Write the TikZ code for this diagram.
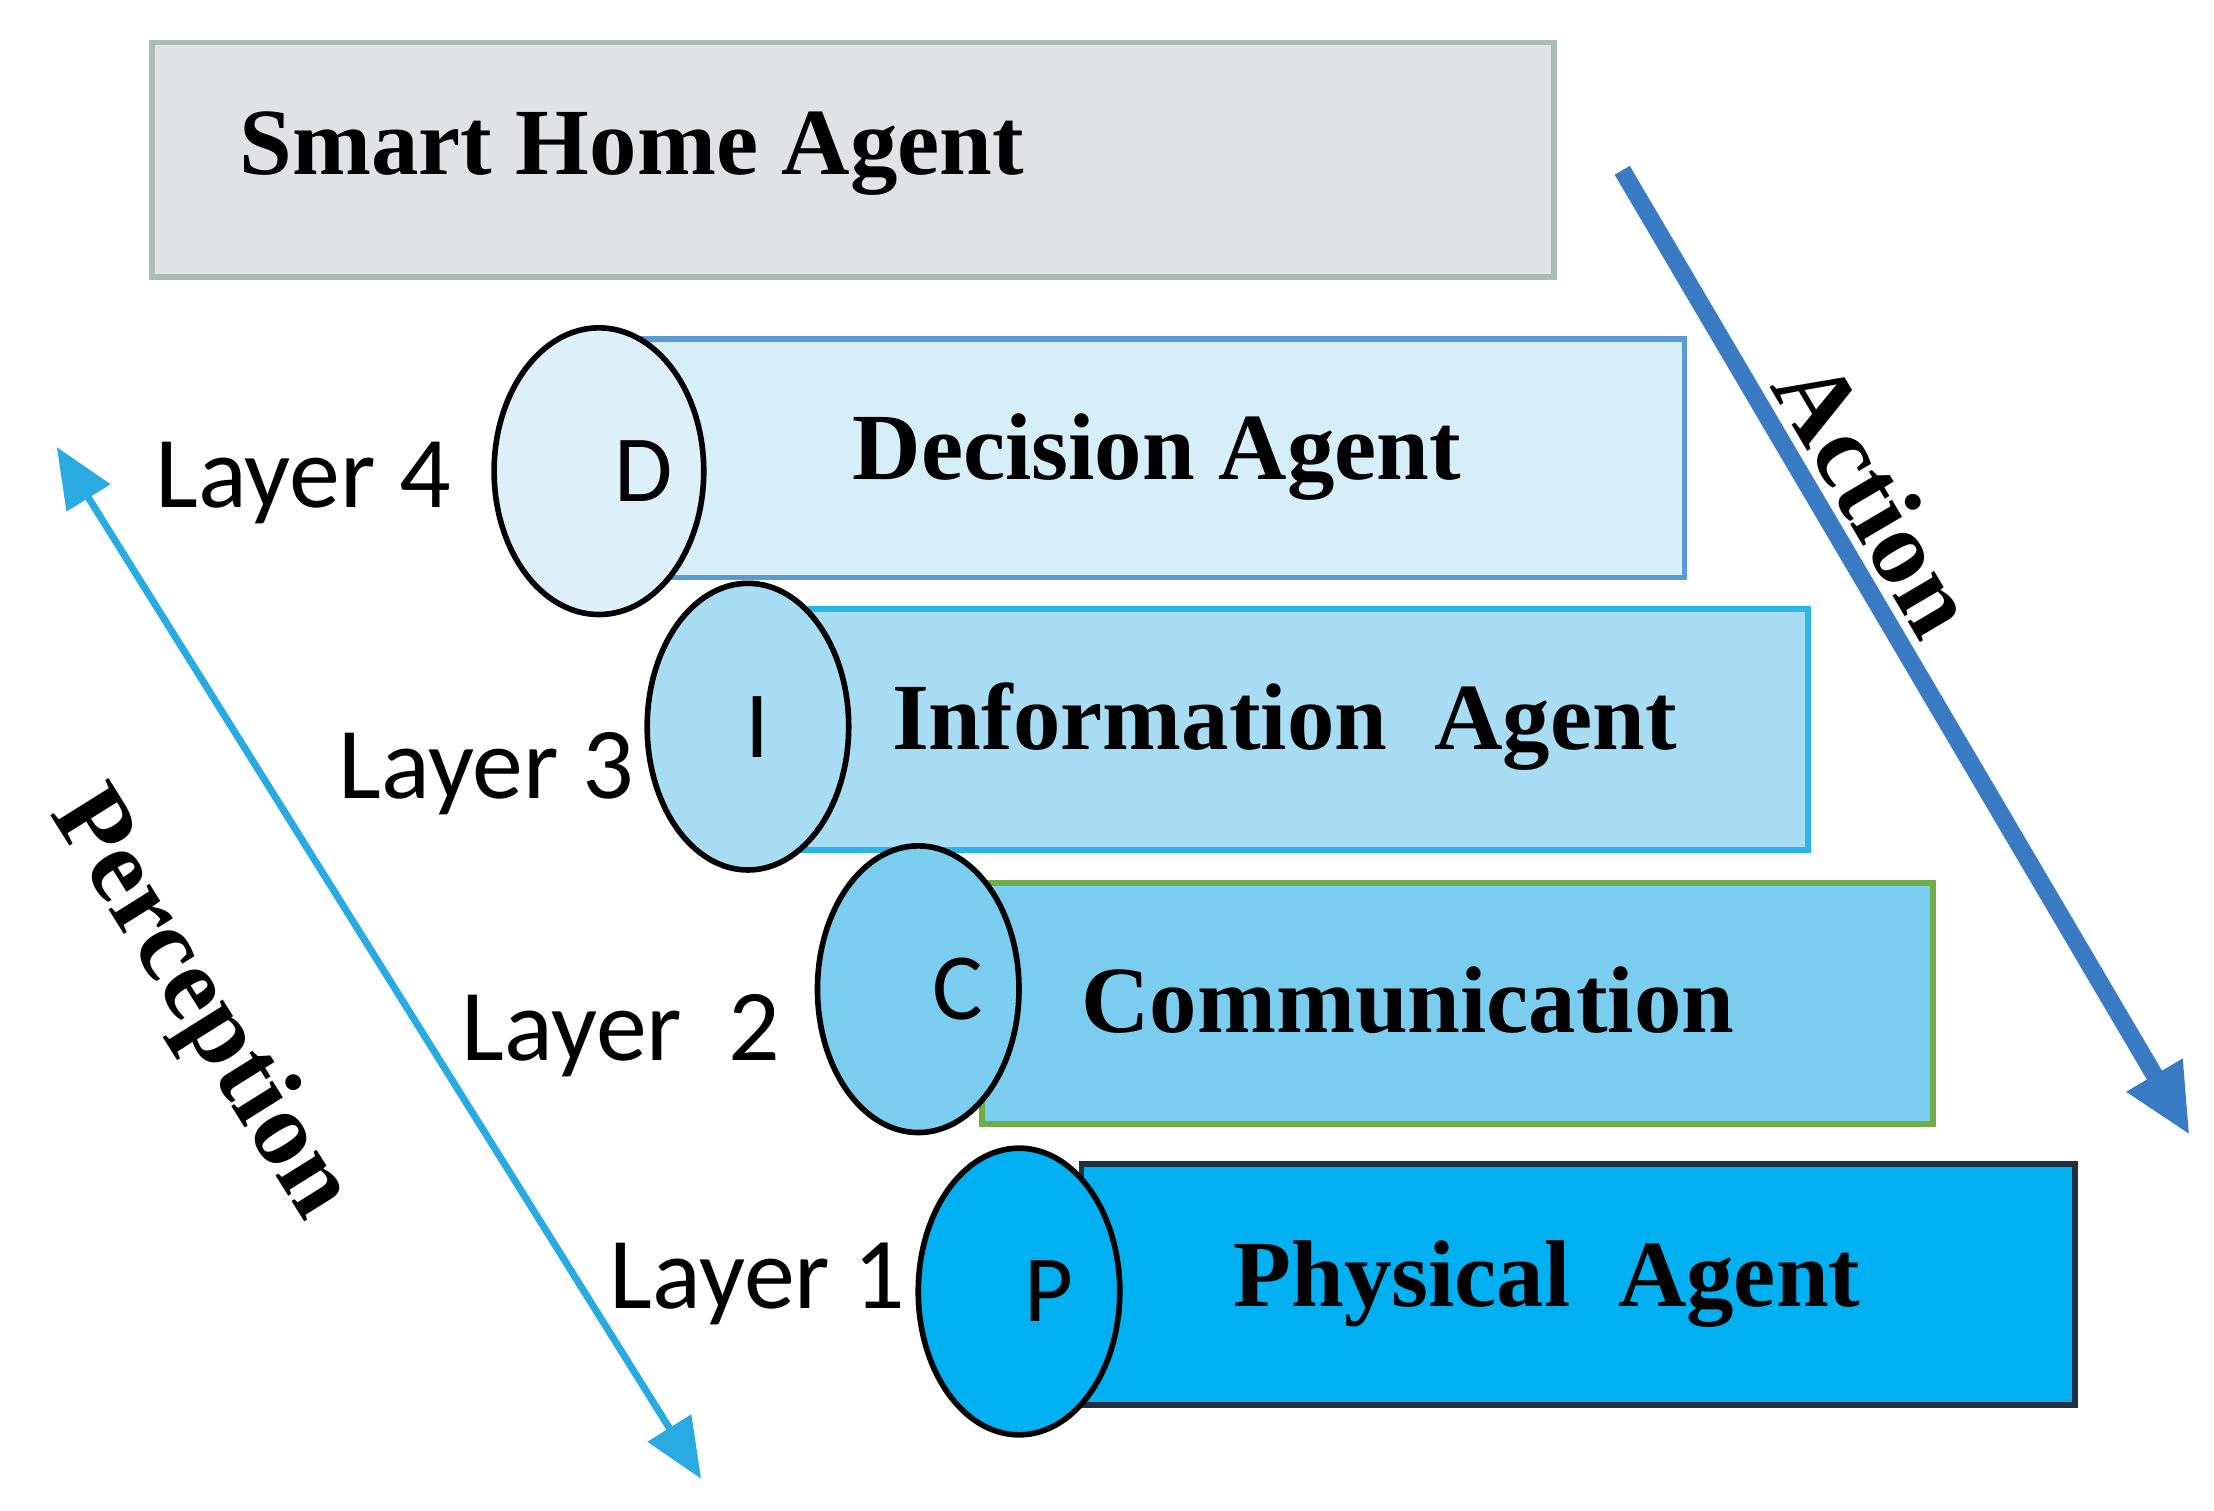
\documentclass[tikz,border=0pt]{standalone}
\usepackage{fontspec}
\setmainfont{Liberation Serif}
\newfontfamily\carl{Carlito}
\usetikzlibrary{shapes.geometric,arrows.meta}
\definecolor{shbg}{HTML}{E0E2E4}
\definecolor{shbd}{HTML}{A9BDB5}
\definecolor{dbg}{HTML}{D6EEF8}
\definecolor{dbd}{HTML}{5B9BD5}
\definecolor{del}{HTML}{DDF0FA}
\definecolor{ibg}{HTML}{A7DCF2}
\definecolor{ibd}{HTML}{2CB5E8}
\definecolor{cbg}{HTML}{7ACDEF}
\definecolor{cbd}{HTML}{70AD47}
\definecolor{pbg}{HTML}{00B0F0}
\definecolor{pbd}{HTML}{1F3040}
\definecolor{perc}{HTML}{29ABE2}
\definecolor{act}{HTML}{3A7CC4}
\newlength{\unitlen}\setlength{\unitlen}{0.0142cm}
\tikzset{
 box/.style={draw,line width=1.6pt,anchor=north west,inner sep=0pt},
 ell/.style={ellipse,draw=black,line width=1.6pt,minimum width=142\unitlen,minimum height=202\unitlen,inner sep=0pt,font=\carl\fontsize{27}{27}\selectfont},
 ttl/.style={font=\bfseries\fontsize{27}{27}\selectfont},
 lay/.style={font=\carl\fontsize{29}{29}\selectfont,anchor=east,inner sep=0pt},
}
\begin{document}
\begin{tikzpicture}[x=0.0142cm,y=-0.0142cm]
\useasboundingbox (0,0) rectangle (1560,1064);
\node[box,fill=shbg,draw=shbd,minimum width=988\unitlen,minimum height=165\unitlen] (sh) at (105,28) {};
\node[ttl,anchor=west] (sht) at (160,108) {Smart Home Agent};
% Decision
\node[box,fill=dbg,draw=dbd,minimum width=735\unitlen,minimum height=168\unitlen] (db) at (450,237) {};
\node[ttl] (dt) at (815,322) {Decision Agent};
\node[ell,fill=del] (de) at (422,332) {\hspace{0.9cm}\raisebox{-0.25cm}{D}};
% Information
\node[box,fill=ibg,draw=ibd,minimum width=712\unitlen,minimum height=170\unitlen] (ib) at (560,427) {};
\node[ttl] (it) at (905,512) {Information\ \ Agent};
\node[ell,fill=ibg] (ie) at (527,512) {\hspace{0.2cm}\raisebox{-0.2cm}{I}};
% Communication
\node[box,fill=cbg,draw=cbd,minimum width=670\unitlen,minimum height=170\unitlen] (cb) at (690,620) {};
\node[ttl] (ct) at (992,705) {Communication};
\node[ell,fill=cbg] (ce) at (647,697) {\hspace{0.8cm}\raisebox{-0.2cm}{C}};
% Physical
\node[box,fill=pbg,draw=pbd,minimum width=700\unitlen,minimum height=170\unitlen] (pb) at (760,818) {};
\node[ttl] (pt) at (1090,905) {Physical\ \ Agent};
\node[ell,fill=pbg] (pe) at (718,910) {\hspace{0.6cm}\raisebox{-0.4cm}{P}};
% layers
\node[lay] (l4) at (318,340) {Layer 4};
\node[lay] (l3) at (447,545) {Layer 3};
\node[lay] (l2) at (550,730) {Layer\ \ 2};
\node[lay] (l1) at (638,905) {Layer 1};
% arrows
\coordinate (pa) at (40,315);
\coordinate (pz) at (494,1042);
\draw[perc,line width=2pt,{Triangle[length=0.6cm,width=0.5cm]}-{Triangle[length=0.6cm,width=0.5cm]}] (pa) -- (pz);
\node[font=\bfseries\fontsize{30}{30}\selectfont,rotate=-58] (pl) at (140,708) {Perception};
\coordinate (aa) at (1143,120);
\coordinate (az) at (1543,800);
\draw[act,line width=5pt,-{Triangle[length=0.7cm,width=0.6cm]}] (aa) -- (az);
\node[font=\bfseries\fontsize{30}{30}\selectfont,rotate=-59.5] (al) at (1322,350) {Action};
\end{tikzpicture}
\end{document}
